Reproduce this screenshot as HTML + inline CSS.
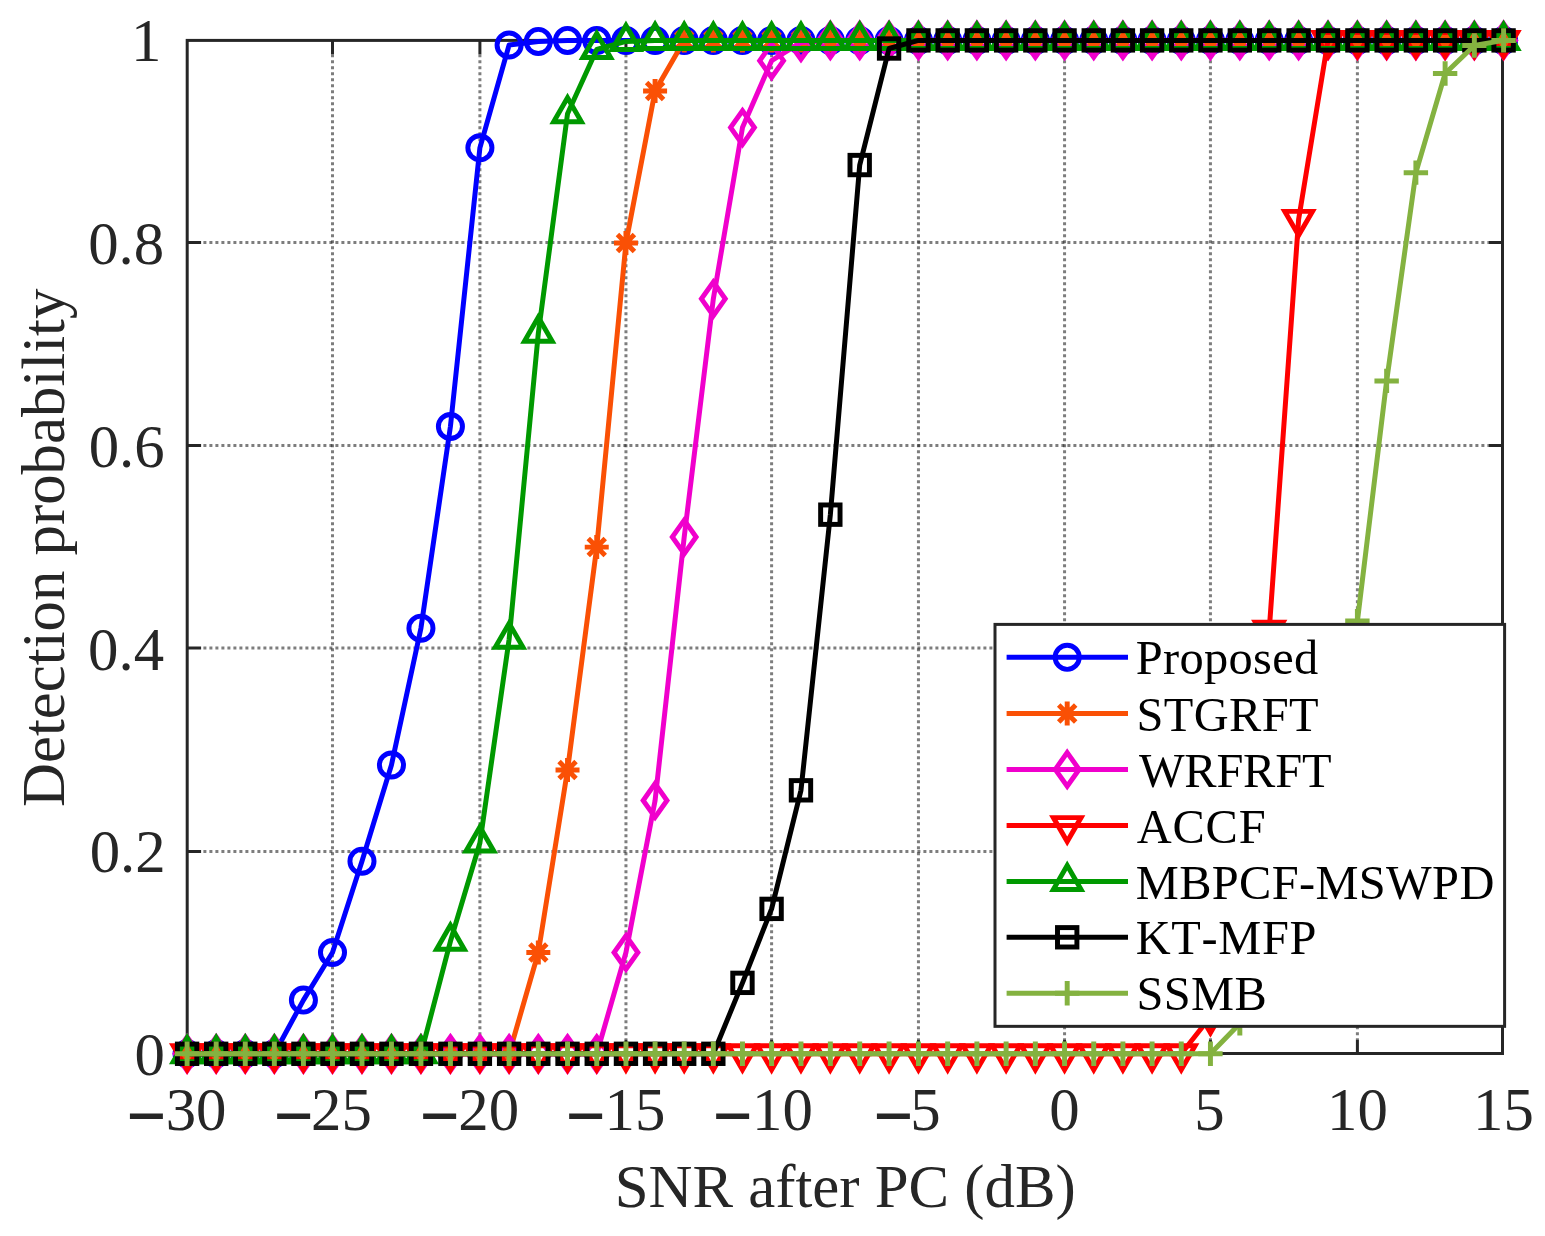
<!DOCTYPE html>
<html lang="en"><head><meta charset="utf-8"><title>Detection probability vs SNR</title>
<style>html,body{margin:0;padding:0;background:#fff}svg{display:block}text{font-family:"Liberation Serif",serif;font-kerning:none}</style></head><body>
<svg width="1545" height="1236" viewBox="0 0 1545 1236">
<rect width="1545" height="1236" fill="#fff"/>
<path d="M332.5 54.3V1039.6M479.9 54.3V1039.6M625.95 54.3V1039.6M771.6 54.3V1039.6M918.45 54.3V1039.6M1064.56 54.3V1039.6M1210.44 54.3V1039.6M1357.4 54.3V1039.6" fill="none" stroke="#262626" stroke-opacity="0.6" stroke-width="3" stroke-dasharray="3 3"/>
<path d="M201.1 851.4H1488.6M201.1 648H1488.6M201.1 445.4H1488.6M201.1 242.6H1488.6" fill="none" stroke="#262626" stroke-opacity="0.6" stroke-width="3" stroke-dasharray="3 3" stroke-dashoffset="3.7"/>
<path d="M332.5 1053.5V1039.6M332.5 40.4V54.3M479.9 1053.5V1039.6M479.9 40.4V54.3M625.95 1053.5V1039.6M625.95 40.4V54.3M771.6 1053.5V1039.6M771.6 40.4V54.3M918.45 1053.5V1039.6M918.45 40.4V54.3M1064.56 1053.5V1039.6M1064.56 40.4V54.3M1210.44 1053.5V1039.6M1210.44 40.4V54.3M1357.4 1053.5V1039.6M1357.4 40.4V54.3M187.2 851.4H201.1M1502.5 851.4H1488.6M187.2 648H201.1M1502.5 648H1488.6M187.2 445.4H201.1M1502.5 445.4H1488.6M187.2 242.6H201.1M1502.5 242.6H1488.6" fill="none" stroke="#262626" stroke-width="3"/>
<rect x="187.2" y="40.4" width="1315.3" height="1013.1" fill="none" stroke="#262626" stroke-width="3"/>
<g font-size="60.8" fill="#262626">
<text transform="translate(126.34 1152.0) scale(1.165 1.777)">−</text>
<text transform="translate(165.7 1129.8) scale(1 1.012)">30</text>
<text transform="translate(273.52 1152.0) scale(1.165 1.777)">−</text>
<text transform="translate(311.09 1129.8) scale(1 1.012)">25</text>
<text transform="translate(419.45 1152.0) scale(1.165 1.777)">−</text>
<text transform="translate(458.3 1129.8) scale(1 1.012)">20</text>
<text transform="translate(565.5 1152.0) scale(1.165 1.777)">−</text>
<text transform="translate(604.53 1129.8) scale(1 1.012)">15</text>
<text transform="translate(712.42 1152.0) scale(1.165 1.777)">−</text>
<text transform="translate(752.1 1129.8) scale(1 1.012)">10</text>
<text transform="translate(873.35 1152.0) scale(1.165 1.777)">−</text>
<text transform="translate(910.35 1129.8) scale(1 1.012)">5</text>
<text transform="translate(1064.56 1129.8) scale(1 1.012)" text-anchor="middle">0</text>
<text transform="translate(1209.44 1129.8) scale(1 1.012)" text-anchor="middle">5</text>
<text transform="translate(1357.4 1129.8) scale(1 1.012)" text-anchor="middle">10</text>
<text transform="translate(1503.4 1129.8) scale(1 1.012)" text-anchor="middle">15</text>
<text transform="translate(164.8 1075.05) scale(1 1.012)" text-anchor="end">0</text>
<text transform="translate(165.7 872) scale(1 1.012)" text-anchor="end">0.2</text>
<text transform="translate(164.05 670) scale(1 1.012)" text-anchor="end">0.4</text>
<text transform="translate(164.65 466.9) scale(1 1.012)" text-anchor="end">0.6</text>
<text transform="translate(164.2 264.2) scale(1 1.012)" text-anchor="end">0.8</text>
<text transform="translate(161.35 61.3) scale(1 1.012)" text-anchor="end">1</text>
<text x="845.3" y="1206.6" text-anchor="middle">SNR after PC (dB)</text>
<text transform="translate(64 547.8) rotate(-90)" text-anchor="middle">Detection probability</text>
</g>
<g>
<polyline points="187.1,1053.8 216.18,1053.8 245.26,1053.8 274.34,1053.8 303.42,1000.09 332.5,952.46 361.98,861.25 391.46,764.98 420.94,628.17 450.42,426.51 479.9,147.82 509.11,44.96 538.32,41.41 567.53,40.4 596.74,40.4 625.95,40.4 655.08,40.4 684.21,40.4 713.34,40.4 742.47,40.4 771.6,40.4 800.97,40.4 830.34,40.4 859.71,40.4 889.08,40.4 918.45,40.4 947.67,40.4 976.89,40.4 1006.12,40.4 1035.34,40.4 1064.56,40.4 1093.74,40.4 1122.91,40.4 1152.09,40.4 1181.26,40.4 1210.44,40.4 1239.83,40.4 1269.22,40.4 1298.62,40.4 1328.01,40.4 1357.4,40.4 1386.64,40.4 1415.88,40.4 1445.12,40.4 1474.36,40.4 1503.6,40.4" fill="none" stroke="#0000ff" stroke-width="5.0" stroke-linejoin="round"/>
<circle cx="187.1" cy="1053.8" r="12.05" fill="none" stroke="#0000ff" stroke-width="4.95"/>
<circle cx="216.18" cy="1053.8" r="12.05" fill="none" stroke="#0000ff" stroke-width="4.95"/>
<circle cx="245.26" cy="1053.8" r="12.05" fill="none" stroke="#0000ff" stroke-width="4.95"/>
<circle cx="274.34" cy="1053.8" r="12.05" fill="none" stroke="#0000ff" stroke-width="4.95"/>
<circle cx="303.42" cy="1000.09" r="12.05" fill="none" stroke="#0000ff" stroke-width="4.95"/>
<circle cx="332.5" cy="952.46" r="12.05" fill="none" stroke="#0000ff" stroke-width="4.95"/>
<circle cx="361.98" cy="861.25" r="12.05" fill="none" stroke="#0000ff" stroke-width="4.95"/>
<circle cx="391.46" cy="764.98" r="12.05" fill="none" stroke="#0000ff" stroke-width="4.95"/>
<circle cx="420.94" cy="628.17" r="12.05" fill="none" stroke="#0000ff" stroke-width="4.95"/>
<circle cx="450.42" cy="426.51" r="12.05" fill="none" stroke="#0000ff" stroke-width="4.95"/>
<circle cx="479.9" cy="147.82" r="12.05" fill="none" stroke="#0000ff" stroke-width="4.95"/>
<circle cx="509.11" cy="44.96" r="12.05" fill="none" stroke="#0000ff" stroke-width="4.95"/>
<circle cx="538.32" cy="41.41" r="12.05" fill="none" stroke="#0000ff" stroke-width="4.95"/>
<circle cx="567.53" cy="40.4" r="12.05" fill="none" stroke="#0000ff" stroke-width="4.95"/>
<circle cx="596.74" cy="40.4" r="12.05" fill="none" stroke="#0000ff" stroke-width="4.95"/>
<circle cx="625.95" cy="40.4" r="12.05" fill="none" stroke="#0000ff" stroke-width="4.95"/>
<circle cx="655.08" cy="40.4" r="12.05" fill="none" stroke="#0000ff" stroke-width="4.95"/>
<circle cx="684.21" cy="40.4" r="12.05" fill="none" stroke="#0000ff" stroke-width="4.95"/>
<circle cx="713.34" cy="40.4" r="12.05" fill="none" stroke="#0000ff" stroke-width="4.95"/>
<circle cx="742.47" cy="40.4" r="12.05" fill="none" stroke="#0000ff" stroke-width="4.95"/>
<circle cx="771.6" cy="40.4" r="12.05" fill="none" stroke="#0000ff" stroke-width="4.95"/>
<circle cx="800.97" cy="40.4" r="12.05" fill="none" stroke="#0000ff" stroke-width="4.95"/>
<circle cx="830.34" cy="40.4" r="12.05" fill="none" stroke="#0000ff" stroke-width="4.95"/>
<circle cx="859.71" cy="40.4" r="12.05" fill="none" stroke="#0000ff" stroke-width="4.95"/>
<circle cx="889.08" cy="40.4" r="12.05" fill="none" stroke="#0000ff" stroke-width="4.95"/>
<circle cx="918.45" cy="40.4" r="12.05" fill="none" stroke="#0000ff" stroke-width="4.95"/>
<circle cx="947.67" cy="40.4" r="12.05" fill="none" stroke="#0000ff" stroke-width="4.95"/>
<circle cx="976.89" cy="40.4" r="12.05" fill="none" stroke="#0000ff" stroke-width="4.95"/>
<circle cx="1006.12" cy="40.4" r="12.05" fill="none" stroke="#0000ff" stroke-width="4.95"/>
<circle cx="1035.34" cy="40.4" r="12.05" fill="none" stroke="#0000ff" stroke-width="4.95"/>
<circle cx="1064.56" cy="40.4" r="12.05" fill="none" stroke="#0000ff" stroke-width="4.95"/>
<circle cx="1093.74" cy="40.4" r="12.05" fill="none" stroke="#0000ff" stroke-width="4.95"/>
<circle cx="1122.91" cy="40.4" r="12.05" fill="none" stroke="#0000ff" stroke-width="4.95"/>
<circle cx="1152.09" cy="40.4" r="12.05" fill="none" stroke="#0000ff" stroke-width="4.95"/>
<circle cx="1181.26" cy="40.4" r="12.05" fill="none" stroke="#0000ff" stroke-width="4.95"/>
<circle cx="1210.44" cy="40.4" r="12.05" fill="none" stroke="#0000ff" stroke-width="4.95"/>
<circle cx="1239.83" cy="40.4" r="12.05" fill="none" stroke="#0000ff" stroke-width="4.95"/>
<circle cx="1269.22" cy="40.4" r="12.05" fill="none" stroke="#0000ff" stroke-width="4.95"/>
<circle cx="1298.62" cy="40.4" r="12.05" fill="none" stroke="#0000ff" stroke-width="4.95"/>
<circle cx="1328.01" cy="40.4" r="12.05" fill="none" stroke="#0000ff" stroke-width="4.95"/>
<circle cx="1357.4" cy="40.4" r="12.05" fill="none" stroke="#0000ff" stroke-width="4.95"/>
<circle cx="1386.64" cy="40.4" r="12.05" fill="none" stroke="#0000ff" stroke-width="4.95"/>
<circle cx="1415.88" cy="40.4" r="12.05" fill="none" stroke="#0000ff" stroke-width="4.95"/>
<circle cx="1445.12" cy="40.4" r="12.05" fill="none" stroke="#0000ff" stroke-width="4.95"/>
<circle cx="1474.36" cy="40.4" r="12.05" fill="none" stroke="#0000ff" stroke-width="4.95"/>
<circle cx="1503.6" cy="40.4" r="12.05" fill="none" stroke="#0000ff" stroke-width="4.95"/>
</g>
<g>
<polyline points="187.1,1053.8 216.18,1053.8 245.26,1053.8 274.34,1053.8 303.42,1053.8 332.5,1053.8 361.98,1053.8 391.46,1053.8 420.94,1053.8 450.42,1053.8 479.9,1053.8 509.11,1053.8 538.32,952.46 567.53,770.05 596.74,547.1 625.95,243.08 655.08,91.07 684.21,40.4 713.34,40.4 742.47,40.4 771.6,40.4 800.97,40.4 830.34,40.4 859.71,40.4 889.08,40.4 918.45,40.4 947.67,40.4 976.89,40.4 1006.12,40.4 1035.34,40.4 1064.56,40.4 1093.74,40.4 1122.91,40.4 1152.09,40.4 1181.26,40.4 1210.44,40.4 1239.83,40.4 1269.22,40.4 1298.62,40.4 1328.01,40.4 1357.4,40.4 1386.64,40.4 1415.88,40.4 1445.12,40.4 1474.36,40.4 1503.6,40.4" fill="none" stroke="#fa5005" stroke-width="5.0" stroke-linejoin="round"/>
<path d="M175.1 1053.8H199.1M187.1 1041.8V1065.8M178.61 1045.31L195.59 1062.29M178.61 1062.29L195.59 1045.31" fill="none" stroke="#fa5005" stroke-width="4.95"/>
<path d="M204.18 1053.8H228.18M216.18 1041.8V1065.8M207.69 1045.31L224.67 1062.29M207.69 1062.29L224.67 1045.31" fill="none" stroke="#fa5005" stroke-width="4.95"/>
<path d="M233.26 1053.8H257.26M245.26 1041.8V1065.8M236.77 1045.31L253.75 1062.29M236.77 1062.29L253.75 1045.31" fill="none" stroke="#fa5005" stroke-width="4.95"/>
<path d="M262.34 1053.8H286.34M274.34 1041.8V1065.8M265.85 1045.31L282.83 1062.29M265.85 1062.29L282.83 1045.31" fill="none" stroke="#fa5005" stroke-width="4.95"/>
<path d="M291.42 1053.8H315.42M303.42 1041.8V1065.8M294.93 1045.31L311.91 1062.29M294.93 1062.29L311.91 1045.31" fill="none" stroke="#fa5005" stroke-width="4.95"/>
<path d="M320.5 1053.8H344.5M332.5 1041.8V1065.8M324.01 1045.31L340.99 1062.29M324.01 1062.29L340.99 1045.31" fill="none" stroke="#fa5005" stroke-width="4.95"/>
<path d="M349.98 1053.8H373.98M361.98 1041.8V1065.8M353.49 1045.31L370.47 1062.29M353.49 1062.29L370.47 1045.31" fill="none" stroke="#fa5005" stroke-width="4.95"/>
<path d="M379.46 1053.8H403.46M391.46 1041.8V1065.8M382.97 1045.31L399.95 1062.29M382.97 1062.29L399.95 1045.31" fill="none" stroke="#fa5005" stroke-width="4.95"/>
<path d="M408.94 1053.8H432.94M420.94 1041.8V1065.8M412.45 1045.31L429.43 1062.29M412.45 1062.29L429.43 1045.31" fill="none" stroke="#fa5005" stroke-width="4.95"/>
<path d="M438.42 1053.8H462.42M450.42 1041.8V1065.8M441.93 1045.31L458.91 1062.29M441.93 1062.29L458.91 1045.31" fill="none" stroke="#fa5005" stroke-width="4.95"/>
<path d="M467.9 1053.8H491.9M479.9 1041.8V1065.8M471.41 1045.31L488.39 1062.29M471.41 1062.29L488.39 1045.31" fill="none" stroke="#fa5005" stroke-width="4.95"/>
<path d="M497.11 1053.8H521.11M509.11 1041.8V1065.8M500.62 1045.31L517.6 1062.29M500.62 1062.29L517.6 1045.31" fill="none" stroke="#fa5005" stroke-width="4.95"/>
<path d="M526.32 952.46H550.32M538.32 940.46V964.46M529.83 943.97L546.81 960.95M529.83 960.95L546.81 943.97" fill="none" stroke="#fa5005" stroke-width="4.95"/>
<path d="M555.53 770.05H579.53M567.53 758.05V782.05M559.04 761.56L576.02 778.53M559.04 778.53L576.02 761.56" fill="none" stroke="#fa5005" stroke-width="4.95"/>
<path d="M584.74 547.1H608.74M596.74 535.1V559.1M588.25 538.61L605.23 555.59M588.25 555.59L605.23 538.61" fill="none" stroke="#fa5005" stroke-width="4.95"/>
<path d="M613.95 243.08H637.95M625.95 231.08V255.08M617.46 234.59L634.44 251.57M617.46 251.57L634.44 234.59" fill="none" stroke="#fa5005" stroke-width="4.95"/>
<path d="M643.08 91.07H667.08M655.08 79.07V103.07M646.59 82.58L663.57 99.56M646.59 99.56L663.57 82.58" fill="none" stroke="#fa5005" stroke-width="4.95"/>
<path d="M672.21 40.4H696.21M684.21 28.4V52.4M675.72 31.91L692.7 48.89M675.72 48.89L692.7 31.91" fill="none" stroke="#fa5005" stroke-width="4.95"/>
<path d="M701.34 40.4H725.34M713.34 28.4V52.4M704.85 31.91L721.83 48.89M704.85 48.89L721.83 31.91" fill="none" stroke="#fa5005" stroke-width="4.95"/>
<path d="M730.47 40.4H754.47M742.47 28.4V52.4M733.98 31.91L750.96 48.89M733.98 48.89L750.96 31.91" fill="none" stroke="#fa5005" stroke-width="4.95"/>
<path d="M759.6 40.4H783.6M771.6 28.4V52.4M763.11 31.91L780.09 48.89M763.11 48.89L780.09 31.91" fill="none" stroke="#fa5005" stroke-width="4.95"/>
<path d="M788.97 40.4H812.97M800.97 28.4V52.4M792.48 31.91L809.46 48.89M792.48 48.89L809.46 31.91" fill="none" stroke="#fa5005" stroke-width="4.95"/>
<path d="M818.34 40.4H842.34M830.34 28.4V52.4M821.85 31.91L838.83 48.89M821.85 48.89L838.83 31.91" fill="none" stroke="#fa5005" stroke-width="4.95"/>
<path d="M847.71 40.4H871.71M859.71 28.4V52.4M851.22 31.91L868.2 48.89M851.22 48.89L868.2 31.91" fill="none" stroke="#fa5005" stroke-width="4.95"/>
<path d="M877.08 40.4H901.08M889.08 28.4V52.4M880.59 31.91L897.57 48.89M880.59 48.89L897.57 31.91" fill="none" stroke="#fa5005" stroke-width="4.95"/>
<path d="M906.45 40.4H930.45M918.45 28.4V52.4M909.96 31.91L926.94 48.89M909.96 48.89L926.94 31.91" fill="none" stroke="#fa5005" stroke-width="4.95"/>
<path d="M935.67 40.4H959.67M947.67 28.4V52.4M939.19 31.91L956.16 48.89M939.19 48.89L956.16 31.91" fill="none" stroke="#fa5005" stroke-width="4.95"/>
<path d="M964.89 40.4H988.89M976.89 28.4V52.4M968.41 31.91L985.38 48.89M968.41 48.89L985.38 31.91" fill="none" stroke="#fa5005" stroke-width="4.95"/>
<path d="M994.12 40.4H1018.12M1006.12 28.4V52.4M997.63 31.91L1014.6 48.89M997.63 48.89L1014.6 31.91" fill="none" stroke="#fa5005" stroke-width="4.95"/>
<path d="M1023.34 40.4H1047.34M1035.34 28.4V52.4M1026.85 31.91L1043.82 48.89M1026.85 48.89L1043.82 31.91" fill="none" stroke="#fa5005" stroke-width="4.95"/>
<path d="M1052.56 40.4H1076.56M1064.56 28.4V52.4M1056.07 31.91L1073.05 48.89M1056.07 48.89L1073.05 31.91" fill="none" stroke="#fa5005" stroke-width="4.95"/>
<path d="M1081.74 40.4H1105.74M1093.74 28.4V52.4M1085.25 31.91L1102.22 48.89M1085.25 48.89L1102.22 31.91" fill="none" stroke="#fa5005" stroke-width="4.95"/>
<path d="M1110.91 40.4H1134.91M1122.91 28.4V52.4M1114.43 31.91L1131.4 48.89M1114.43 48.89L1131.4 31.91" fill="none" stroke="#fa5005" stroke-width="4.95"/>
<path d="M1140.09 40.4H1164.09M1152.09 28.4V52.4M1143.6 31.91L1160.57 48.89M1143.6 48.89L1160.57 31.91" fill="none" stroke="#fa5005" stroke-width="4.95"/>
<path d="M1169.26 40.4H1193.26M1181.26 28.4V52.4M1172.78 31.91L1189.75 48.89M1172.78 48.89L1189.75 31.91" fill="none" stroke="#fa5005" stroke-width="4.95"/>
<path d="M1198.44 40.4H1222.44M1210.44 28.4V52.4M1201.95 31.91L1218.93 48.89M1201.95 48.89L1218.93 31.91" fill="none" stroke="#fa5005" stroke-width="4.95"/>
<path d="M1227.83 40.4H1251.83M1239.83 28.4V52.4M1231.35 31.91L1248.32 48.89M1231.35 48.89L1248.32 31.91" fill="none" stroke="#fa5005" stroke-width="4.95"/>
<path d="M1257.22 40.4H1281.22M1269.22 28.4V52.4M1260.74 31.91L1277.71 48.89M1260.74 48.89L1277.71 31.91" fill="none" stroke="#fa5005" stroke-width="4.95"/>
<path d="M1286.62 40.4H1310.62M1298.62 28.4V52.4M1290.13 31.91L1307.1 48.89M1290.13 48.89L1307.1 31.91" fill="none" stroke="#fa5005" stroke-width="4.95"/>
<path d="M1316.01 40.4H1340.01M1328.01 28.4V52.4M1319.52 31.91L1336.49 48.89M1319.52 48.89L1336.49 31.91" fill="none" stroke="#fa5005" stroke-width="4.95"/>
<path d="M1345.4 40.4H1369.4M1357.4 28.4V52.4M1348.91 31.91L1365.89 48.89M1348.91 48.89L1365.89 31.91" fill="none" stroke="#fa5005" stroke-width="4.95"/>
<path d="M1374.64 40.4H1398.64M1386.64 28.4V52.4M1378.15 31.91L1395.13 48.89M1378.15 48.89L1395.13 31.91" fill="none" stroke="#fa5005" stroke-width="4.95"/>
<path d="M1403.88 40.4H1427.88M1415.88 28.4V52.4M1407.39 31.91L1424.37 48.89M1407.39 48.89L1424.37 31.91" fill="none" stroke="#fa5005" stroke-width="4.95"/>
<path d="M1433.12 40.4H1457.12M1445.12 28.4V52.4M1436.63 31.91L1453.61 48.89M1436.63 48.89L1453.61 31.91" fill="none" stroke="#fa5005" stroke-width="4.95"/>
<path d="M1462.36 40.4H1486.36M1474.36 28.4V52.4M1465.87 31.91L1482.85 48.89M1465.87 48.89L1482.85 31.91" fill="none" stroke="#fa5005" stroke-width="4.95"/>
<path d="M1491.6 40.4H1515.6M1503.6 28.4V52.4M1495.11 31.91L1512.09 48.89M1495.11 48.89L1512.09 31.91" fill="none" stroke="#fa5005" stroke-width="4.95"/>
</g>
<g>
<polyline points="187.1,1053.8 216.18,1053.8 245.26,1053.8 274.34,1053.8 303.42,1053.8 332.5,1053.8 361.98,1053.8 391.46,1053.8 420.94,1053.8 450.42,1053.8 479.9,1053.8 509.11,1053.8 538.32,1053.8 567.53,1053.8 596.74,1053.8 625.95,952.46 655.08,800.45 684.21,536.97 713.34,298.82 742.47,127.55 771.6,60.67 800.97,42.43 830.34,40.4 859.71,40.4 889.08,40.4 918.45,40.4 947.67,40.4 976.89,40.4 1006.12,40.4 1035.34,40.4 1064.56,40.4 1093.74,40.4 1122.91,40.4 1152.09,40.4 1181.26,40.4 1210.44,40.4 1239.83,40.4 1269.22,40.4 1298.62,40.4 1328.01,40.4 1357.4,40.4 1386.64,40.4 1415.88,40.4 1445.12,40.4 1474.36,40.4 1503.6,40.4" fill="none" stroke="#f000cc" stroke-width="5.0" stroke-linejoin="round"/>
<path d="M187.1 1037L199 1053.8L187.1 1070.6L175.2 1053.8Z" fill="none" stroke="#f000cc" stroke-width="4.95"/>
<path d="M216.18 1037L228.08 1053.8L216.18 1070.6L204.28 1053.8Z" fill="none" stroke="#f000cc" stroke-width="4.95"/>
<path d="M245.26 1037L257.16 1053.8L245.26 1070.6L233.36 1053.8Z" fill="none" stroke="#f000cc" stroke-width="4.95"/>
<path d="M274.34 1037L286.24 1053.8L274.34 1070.6L262.44 1053.8Z" fill="none" stroke="#f000cc" stroke-width="4.95"/>
<path d="M303.42 1037L315.32 1053.8L303.42 1070.6L291.52 1053.8Z" fill="none" stroke="#f000cc" stroke-width="4.95"/>
<path d="M332.5 1037L344.4 1053.8L332.5 1070.6L320.6 1053.8Z" fill="none" stroke="#f000cc" stroke-width="4.95"/>
<path d="M361.98 1037L373.88 1053.8L361.98 1070.6L350.08 1053.8Z" fill="none" stroke="#f000cc" stroke-width="4.95"/>
<path d="M391.46 1037L403.36 1053.8L391.46 1070.6L379.56 1053.8Z" fill="none" stroke="#f000cc" stroke-width="4.95"/>
<path d="M420.94 1037L432.84 1053.8L420.94 1070.6L409.04 1053.8Z" fill="none" stroke="#f000cc" stroke-width="4.95"/>
<path d="M450.42 1037L462.32 1053.8L450.42 1070.6L438.52 1053.8Z" fill="none" stroke="#f000cc" stroke-width="4.95"/>
<path d="M479.9 1037L491.8 1053.8L479.9 1070.6L468 1053.8Z" fill="none" stroke="#f000cc" stroke-width="4.95"/>
<path d="M509.11 1037L521.01 1053.8L509.11 1070.6L497.21 1053.8Z" fill="none" stroke="#f000cc" stroke-width="4.95"/>
<path d="M538.32 1037L550.22 1053.8L538.32 1070.6L526.42 1053.8Z" fill="none" stroke="#f000cc" stroke-width="4.95"/>
<path d="M567.53 1037L579.43 1053.8L567.53 1070.6L555.63 1053.8Z" fill="none" stroke="#f000cc" stroke-width="4.95"/>
<path d="M596.74 1037L608.64 1053.8L596.74 1070.6L584.84 1053.8Z" fill="none" stroke="#f000cc" stroke-width="4.95"/>
<path d="M625.95 935.66L637.85 952.46L625.95 969.26L614.05 952.46Z" fill="none" stroke="#f000cc" stroke-width="4.95"/>
<path d="M655.08 783.65L666.98 800.45L655.08 817.25L643.18 800.45Z" fill="none" stroke="#f000cc" stroke-width="4.95"/>
<path d="M684.21 520.17L696.11 536.97L684.21 553.77L672.31 536.97Z" fill="none" stroke="#f000cc" stroke-width="4.95"/>
<path d="M713.34 282.02L725.24 298.82L713.34 315.62L701.44 298.82Z" fill="none" stroke="#f000cc" stroke-width="4.95"/>
<path d="M742.47 110.75L754.37 127.55L742.47 144.35L730.57 127.55Z" fill="none" stroke="#f000cc" stroke-width="4.95"/>
<path d="M771.6 43.87L783.5 60.67L771.6 77.47L759.7 60.67Z" fill="none" stroke="#f000cc" stroke-width="4.95"/>
<path d="M800.97 25.63L812.87 42.43L800.97 59.23L789.07 42.43Z" fill="none" stroke="#f000cc" stroke-width="4.95"/>
<path d="M830.34 23.6L842.24 40.4L830.34 57.2L818.44 40.4Z" fill="none" stroke="#f000cc" stroke-width="4.95"/>
<path d="M859.71 23.6L871.61 40.4L859.71 57.2L847.81 40.4Z" fill="none" stroke="#f000cc" stroke-width="4.95"/>
<path d="M889.08 23.6L900.98 40.4L889.08 57.2L877.18 40.4Z" fill="none" stroke="#f000cc" stroke-width="4.95"/>
<path d="M918.45 23.6L930.35 40.4L918.45 57.2L906.55 40.4Z" fill="none" stroke="#f000cc" stroke-width="4.95"/>
<path d="M947.67 23.6L959.57 40.4L947.67 57.2L935.77 40.4Z" fill="none" stroke="#f000cc" stroke-width="4.95"/>
<path d="M976.89 23.6L988.79 40.4L976.89 57.2L964.99 40.4Z" fill="none" stroke="#f000cc" stroke-width="4.95"/>
<path d="M1006.12 23.6L1018.02 40.4L1006.12 57.2L994.22 40.4Z" fill="none" stroke="#f000cc" stroke-width="4.95"/>
<path d="M1035.34 23.6L1047.24 40.4L1035.34 57.2L1023.44 40.4Z" fill="none" stroke="#f000cc" stroke-width="4.95"/>
<path d="M1064.56 23.6L1076.46 40.4L1064.56 57.2L1052.66 40.4Z" fill="none" stroke="#f000cc" stroke-width="4.95"/>
<path d="M1093.74 23.6L1105.64 40.4L1093.74 57.2L1081.84 40.4Z" fill="none" stroke="#f000cc" stroke-width="4.95"/>
<path d="M1122.91 23.6L1134.81 40.4L1122.91 57.2L1111.01 40.4Z" fill="none" stroke="#f000cc" stroke-width="4.95"/>
<path d="M1152.09 23.6L1163.99 40.4L1152.09 57.2L1140.19 40.4Z" fill="none" stroke="#f000cc" stroke-width="4.95"/>
<path d="M1181.26 23.6L1193.16 40.4L1181.26 57.2L1169.36 40.4Z" fill="none" stroke="#f000cc" stroke-width="4.95"/>
<path d="M1210.44 23.6L1222.34 40.4L1210.44 57.2L1198.54 40.4Z" fill="none" stroke="#f000cc" stroke-width="4.95"/>
<path d="M1239.83 23.6L1251.73 40.4L1239.83 57.2L1227.93 40.4Z" fill="none" stroke="#f000cc" stroke-width="4.95"/>
<path d="M1269.22 23.6L1281.12 40.4L1269.22 57.2L1257.32 40.4Z" fill="none" stroke="#f000cc" stroke-width="4.95"/>
<path d="M1298.62 23.6L1310.52 40.4L1298.62 57.2L1286.72 40.4Z" fill="none" stroke="#f000cc" stroke-width="4.95"/>
<path d="M1328.01 23.6L1339.91 40.4L1328.01 57.2L1316.11 40.4Z" fill="none" stroke="#f000cc" stroke-width="4.95"/>
<path d="M1357.4 23.6L1369.3 40.4L1357.4 57.2L1345.5 40.4Z" fill="none" stroke="#f000cc" stroke-width="4.95"/>
<path d="M1386.64 23.6L1398.54 40.4L1386.64 57.2L1374.74 40.4Z" fill="none" stroke="#f000cc" stroke-width="4.95"/>
<path d="M1415.88 23.6L1427.78 40.4L1415.88 57.2L1403.98 40.4Z" fill="none" stroke="#f000cc" stroke-width="4.95"/>
<path d="M1445.12 23.6L1457.02 40.4L1445.12 57.2L1433.22 40.4Z" fill="none" stroke="#f000cc" stroke-width="4.95"/>
<path d="M1474.36 23.6L1486.26 40.4L1474.36 57.2L1462.46 40.4Z" fill="none" stroke="#f000cc" stroke-width="4.95"/>
<path d="M1503.6 23.6L1515.5 40.4L1503.6 57.2L1491.7 40.4Z" fill="none" stroke="#f000cc" stroke-width="4.95"/>
</g>
<g>
<polyline points="187.1,1053.8 216.18,1053.8 245.26,1053.8 274.34,1053.8 303.42,1053.8 332.5,1053.8 361.98,1053.8 391.46,1053.8 420.94,1053.8 450.42,1053.8 479.9,1053.8 509.11,1053.8 538.32,1053.8 567.53,1053.8 596.74,1053.8 625.95,1053.8 655.08,1053.8 684.21,1053.8 713.34,1053.8 742.47,1053.8 771.6,1053.8 800.97,1053.8 830.34,1053.8 859.71,1053.8 889.08,1053.8 918.45,1053.8 947.67,1053.8 976.89,1053.8 1006.12,1053.8 1035.34,1053.8 1064.56,1053.8 1093.74,1053.8 1122.91,1053.8 1152.09,1053.8 1181.26,1053.8 1210.44,1016.81 1239.83,891.66 1269.22,630.2 1298.62,219.37 1328.01,40.4 1357.4,40.4 1386.64,40.4 1415.88,40.4 1445.12,40.4 1474.36,40.4 1503.6,40.4" fill="none" stroke="#ff0000" stroke-width="5.0" stroke-linejoin="round"/>
<path d="M173.25 1045.8L200.95 1045.8L187.1 1069.79Z" fill="none" stroke="#ff0000" stroke-width="4.95"/>
<path d="M202.33 1045.8L230.03 1045.8L216.18 1069.79Z" fill="none" stroke="#ff0000" stroke-width="4.95"/>
<path d="M231.41 1045.8L259.11 1045.8L245.26 1069.79Z" fill="none" stroke="#ff0000" stroke-width="4.95"/>
<path d="M260.49 1045.8L288.19 1045.8L274.34 1069.79Z" fill="none" stroke="#ff0000" stroke-width="4.95"/>
<path d="M289.57 1045.8L317.27 1045.8L303.42 1069.79Z" fill="none" stroke="#ff0000" stroke-width="4.95"/>
<path d="M318.65 1045.8L346.35 1045.8L332.5 1069.79Z" fill="none" stroke="#ff0000" stroke-width="4.95"/>
<path d="M348.13 1045.8L375.83 1045.8L361.98 1069.79Z" fill="none" stroke="#ff0000" stroke-width="4.95"/>
<path d="M377.61 1045.8L405.31 1045.8L391.46 1069.79Z" fill="none" stroke="#ff0000" stroke-width="4.95"/>
<path d="M407.09 1045.8L434.79 1045.8L420.94 1069.79Z" fill="none" stroke="#ff0000" stroke-width="4.95"/>
<path d="M436.57 1045.8L464.27 1045.8L450.42 1069.79Z" fill="none" stroke="#ff0000" stroke-width="4.95"/>
<path d="M466.05 1045.8L493.75 1045.8L479.9 1069.79Z" fill="none" stroke="#ff0000" stroke-width="4.95"/>
<path d="M495.26 1045.8L522.96 1045.8L509.11 1069.79Z" fill="none" stroke="#ff0000" stroke-width="4.95"/>
<path d="M524.47 1045.8L552.17 1045.8L538.32 1069.79Z" fill="none" stroke="#ff0000" stroke-width="4.95"/>
<path d="M553.68 1045.8L581.38 1045.8L567.53 1069.79Z" fill="none" stroke="#ff0000" stroke-width="4.95"/>
<path d="M582.89 1045.8L610.59 1045.8L596.74 1069.79Z" fill="none" stroke="#ff0000" stroke-width="4.95"/>
<path d="M612.1 1045.8L639.8 1045.8L625.95 1069.79Z" fill="none" stroke="#ff0000" stroke-width="4.95"/>
<path d="M641.23 1045.8L668.93 1045.8L655.08 1069.79Z" fill="none" stroke="#ff0000" stroke-width="4.95"/>
<path d="M670.36 1045.8L698.06 1045.8L684.21 1069.79Z" fill="none" stroke="#ff0000" stroke-width="4.95"/>
<path d="M699.49 1045.8L727.19 1045.8L713.34 1069.79Z" fill="none" stroke="#ff0000" stroke-width="4.95"/>
<path d="M728.62 1045.8L756.32 1045.8L742.47 1069.79Z" fill="none" stroke="#ff0000" stroke-width="4.95"/>
<path d="M757.75 1045.8L785.45 1045.8L771.6 1069.79Z" fill="none" stroke="#ff0000" stroke-width="4.95"/>
<path d="M787.12 1045.8L814.82 1045.8L800.97 1069.79Z" fill="none" stroke="#ff0000" stroke-width="4.95"/>
<path d="M816.49 1045.8L844.19 1045.8L830.34 1069.79Z" fill="none" stroke="#ff0000" stroke-width="4.95"/>
<path d="M845.86 1045.8L873.56 1045.8L859.71 1069.79Z" fill="none" stroke="#ff0000" stroke-width="4.95"/>
<path d="M875.23 1045.8L902.93 1045.8L889.08 1069.79Z" fill="none" stroke="#ff0000" stroke-width="4.95"/>
<path d="M904.6 1045.8L932.3 1045.8L918.45 1069.79Z" fill="none" stroke="#ff0000" stroke-width="4.95"/>
<path d="M933.82 1045.8L961.52 1045.8L947.67 1069.79Z" fill="none" stroke="#ff0000" stroke-width="4.95"/>
<path d="M963.04 1045.8L990.74 1045.8L976.89 1069.79Z" fill="none" stroke="#ff0000" stroke-width="4.95"/>
<path d="M992.27 1045.8L1019.97 1045.8L1006.12 1069.79Z" fill="none" stroke="#ff0000" stroke-width="4.95"/>
<path d="M1021.49 1045.8L1049.19 1045.8L1035.34 1069.79Z" fill="none" stroke="#ff0000" stroke-width="4.95"/>
<path d="M1050.71 1045.8L1078.41 1045.8L1064.56 1069.79Z" fill="none" stroke="#ff0000" stroke-width="4.95"/>
<path d="M1079.89 1045.8L1107.59 1045.8L1093.74 1069.79Z" fill="none" stroke="#ff0000" stroke-width="4.95"/>
<path d="M1109.06 1045.8L1136.76 1045.8L1122.91 1069.79Z" fill="none" stroke="#ff0000" stroke-width="4.95"/>
<path d="M1138.24 1045.8L1165.94 1045.8L1152.09 1069.79Z" fill="none" stroke="#ff0000" stroke-width="4.95"/>
<path d="M1167.41 1045.8L1195.11 1045.8L1181.26 1069.79Z" fill="none" stroke="#ff0000" stroke-width="4.95"/>
<path d="M1196.59 1008.81L1224.29 1008.81L1210.44 1032.8Z" fill="none" stroke="#ff0000" stroke-width="4.95"/>
<path d="M1225.98 883.66L1253.68 883.66L1239.83 907.65Z" fill="none" stroke="#ff0000" stroke-width="4.95"/>
<path d="M1255.37 622.2L1283.07 622.2L1269.22 646.19Z" fill="none" stroke="#ff0000" stroke-width="4.95"/>
<path d="M1284.77 211.37L1312.47 211.37L1298.62 235.36Z" fill="none" stroke="#ff0000" stroke-width="4.95"/>
<path d="M1314.16 32.4L1341.86 32.4L1328.01 56.39Z" fill="none" stroke="#ff0000" stroke-width="4.95"/>
<path d="M1343.55 32.4L1371.25 32.4L1357.4 56.39Z" fill="none" stroke="#ff0000" stroke-width="4.95"/>
<path d="M1372.79 32.4L1400.49 32.4L1386.64 56.39Z" fill="none" stroke="#ff0000" stroke-width="4.95"/>
<path d="M1402.03 32.4L1429.73 32.4L1415.88 56.39Z" fill="none" stroke="#ff0000" stroke-width="4.95"/>
<path d="M1431.27 32.4L1458.97 32.4L1445.12 56.39Z" fill="none" stroke="#ff0000" stroke-width="4.95"/>
<path d="M1460.51 32.4L1488.21 32.4L1474.36 56.39Z" fill="none" stroke="#ff0000" stroke-width="4.95"/>
<path d="M1489.75 32.4L1517.45 32.4L1503.6 56.39Z" fill="none" stroke="#ff0000" stroke-width="4.95"/>
</g>
<g>
<polyline points="187.1,1053.8 216.18,1053.8 245.26,1053.8 274.34,1053.8 303.42,1053.8 332.5,1053.8 361.98,1053.8 391.46,1053.8 420.94,1053.8 450.42,941.31 479.9,843.01 509.11,639.32 538.32,333.27 567.53,113.77 596.74,49.52 625.95,41.41 655.08,40.4 684.21,40.4 713.34,40.4 742.47,40.4 771.6,40.4 800.97,40.4 830.34,40.4 859.71,40.4 889.08,40.4 918.45,40.4 947.67,40.4 976.89,40.4 1006.12,40.4 1035.34,40.4 1064.56,40.4 1093.74,40.4 1122.91,40.4 1152.09,40.4 1181.26,40.4 1210.44,40.4 1239.83,40.4 1269.22,40.4 1298.62,40.4 1328.01,40.4 1357.4,40.4 1386.64,40.4 1415.88,40.4 1445.12,40.4 1474.36,40.4 1503.6,40.4" fill="none" stroke="#009900" stroke-width="5.0" stroke-linejoin="round"/>
<path d="M173.25 1061.8L200.95 1061.8L187.1 1037.81Z" fill="none" stroke="#009900" stroke-width="4.95"/>
<path d="M202.33 1061.8L230.03 1061.8L216.18 1037.81Z" fill="none" stroke="#009900" stroke-width="4.95"/>
<path d="M231.41 1061.8L259.11 1061.8L245.26 1037.81Z" fill="none" stroke="#009900" stroke-width="4.95"/>
<path d="M260.49 1061.8L288.19 1061.8L274.34 1037.81Z" fill="none" stroke="#009900" stroke-width="4.95"/>
<path d="M289.57 1061.8L317.27 1061.8L303.42 1037.81Z" fill="none" stroke="#009900" stroke-width="4.95"/>
<path d="M318.65 1061.8L346.35 1061.8L332.5 1037.81Z" fill="none" stroke="#009900" stroke-width="4.95"/>
<path d="M348.13 1061.8L375.83 1061.8L361.98 1037.81Z" fill="none" stroke="#009900" stroke-width="4.95"/>
<path d="M377.61 1061.8L405.31 1061.8L391.46 1037.81Z" fill="none" stroke="#009900" stroke-width="4.95"/>
<path d="M407.09 1061.8L434.79 1061.8L420.94 1037.81Z" fill="none" stroke="#009900" stroke-width="4.95"/>
<path d="M436.57 949.31L464.27 949.31L450.42 925.32Z" fill="none" stroke="#009900" stroke-width="4.95"/>
<path d="M466.05 851.01L493.75 851.01L479.9 827.02Z" fill="none" stroke="#009900" stroke-width="4.95"/>
<path d="M495.26 647.32L522.96 647.32L509.11 623.33Z" fill="none" stroke="#009900" stroke-width="4.95"/>
<path d="M524.47 341.27L552.17 341.27L538.32 317.28Z" fill="none" stroke="#009900" stroke-width="4.95"/>
<path d="M553.68 121.77L581.38 121.77L567.53 97.78Z" fill="none" stroke="#009900" stroke-width="4.95"/>
<path d="M582.89 57.52L610.59 57.52L596.74 33.53Z" fill="none" stroke="#009900" stroke-width="4.95"/>
<path d="M612.1 49.41L639.8 49.41L625.95 25.42Z" fill="none" stroke="#009900" stroke-width="4.95"/>
<path d="M641.23 48.4L668.93 48.4L655.08 24.41Z" fill="none" stroke="#009900" stroke-width="4.95"/>
<path d="M670.36 48.4L698.06 48.4L684.21 24.41Z" fill="none" stroke="#009900" stroke-width="4.95"/>
<path d="M699.49 48.4L727.19 48.4L713.34 24.41Z" fill="none" stroke="#009900" stroke-width="4.95"/>
<path d="M728.62 48.4L756.32 48.4L742.47 24.41Z" fill="none" stroke="#009900" stroke-width="4.95"/>
<path d="M757.75 48.4L785.45 48.4L771.6 24.41Z" fill="none" stroke="#009900" stroke-width="4.95"/>
<path d="M787.12 48.4L814.82 48.4L800.97 24.41Z" fill="none" stroke="#009900" stroke-width="4.95"/>
<path d="M816.49 48.4L844.19 48.4L830.34 24.41Z" fill="none" stroke="#009900" stroke-width="4.95"/>
<path d="M845.86 48.4L873.56 48.4L859.71 24.41Z" fill="none" stroke="#009900" stroke-width="4.95"/>
<path d="M875.23 48.4L902.93 48.4L889.08 24.41Z" fill="none" stroke="#009900" stroke-width="4.95"/>
<path d="M904.6 48.4L932.3 48.4L918.45 24.41Z" fill="none" stroke="#009900" stroke-width="4.95"/>
<path d="M933.82 48.4L961.52 48.4L947.67 24.41Z" fill="none" stroke="#009900" stroke-width="4.95"/>
<path d="M963.04 48.4L990.74 48.4L976.89 24.41Z" fill="none" stroke="#009900" stroke-width="4.95"/>
<path d="M992.27 48.4L1019.97 48.4L1006.12 24.41Z" fill="none" stroke="#009900" stroke-width="4.95"/>
<path d="M1021.49 48.4L1049.19 48.4L1035.34 24.41Z" fill="none" stroke="#009900" stroke-width="4.95"/>
<path d="M1050.71 48.4L1078.41 48.4L1064.56 24.41Z" fill="none" stroke="#009900" stroke-width="4.95"/>
<path d="M1079.89 48.4L1107.59 48.4L1093.74 24.41Z" fill="none" stroke="#009900" stroke-width="4.95"/>
<path d="M1109.06 48.4L1136.76 48.4L1122.91 24.41Z" fill="none" stroke="#009900" stroke-width="4.95"/>
<path d="M1138.24 48.4L1165.94 48.4L1152.09 24.41Z" fill="none" stroke="#009900" stroke-width="4.95"/>
<path d="M1167.41 48.4L1195.11 48.4L1181.26 24.41Z" fill="none" stroke="#009900" stroke-width="4.95"/>
<path d="M1196.59 48.4L1224.29 48.4L1210.44 24.41Z" fill="none" stroke="#009900" stroke-width="4.95"/>
<path d="M1225.98 48.4L1253.68 48.4L1239.83 24.41Z" fill="none" stroke="#009900" stroke-width="4.95"/>
<path d="M1255.37 48.4L1283.07 48.4L1269.22 24.41Z" fill="none" stroke="#009900" stroke-width="4.95"/>
<path d="M1284.77 48.4L1312.47 48.4L1298.62 24.41Z" fill="none" stroke="#009900" stroke-width="4.95"/>
<path d="M1314.16 48.4L1341.86 48.4L1328.01 24.41Z" fill="none" stroke="#009900" stroke-width="4.95"/>
<path d="M1343.55 48.4L1371.25 48.4L1357.4 24.41Z" fill="none" stroke="#009900" stroke-width="4.95"/>
<path d="M1372.79 48.4L1400.49 48.4L1386.64 24.41Z" fill="none" stroke="#009900" stroke-width="4.95"/>
<path d="M1402.03 48.4L1429.73 48.4L1415.88 24.41Z" fill="none" stroke="#009900" stroke-width="4.95"/>
<path d="M1431.27 48.4L1458.97 48.4L1445.12 24.41Z" fill="none" stroke="#009900" stroke-width="4.95"/>
<path d="M1460.51 48.4L1488.21 48.4L1474.36 24.41Z" fill="none" stroke="#009900" stroke-width="4.95"/>
<path d="M1489.75 48.4L1517.45 48.4L1503.6 24.41Z" fill="none" stroke="#009900" stroke-width="4.95"/>
</g>
<g>
<polyline points="187.1,1053.8 216.18,1053.8 245.26,1053.8 274.34,1053.8 303.42,1053.8 332.5,1053.8 361.98,1053.8 391.46,1053.8 420.94,1053.8 450.42,1053.8 479.9,1053.8 509.11,1053.8 538.32,1053.8 567.53,1053.8 596.74,1053.8 625.95,1053.8 655.08,1053.8 684.21,1053.8 713.34,1053.8 742.47,982.86 771.6,908.88 800.97,790.32 830.34,514.67 859.71,165.05 889.08,48.51 918.45,40.4 947.67,40.4 976.89,40.4 1006.12,40.4 1035.34,40.4 1064.56,40.4 1093.74,40.4 1122.91,40.4 1152.09,40.4 1181.26,40.4 1210.44,40.4 1239.83,40.4 1269.22,40.4 1298.62,40.4 1328.01,40.4 1357.4,40.4 1386.64,40.4 1415.88,40.4 1445.12,40.4 1474.36,40.4 1503.6,40.4" fill="none" stroke="#000000" stroke-width="5.0" stroke-linejoin="round"/>
<rect x="177.4" y="1044.1" width="19.4" height="19.4" fill="none" stroke="#000000" stroke-width="4.95"/>
<rect x="206.48" y="1044.1" width="19.4" height="19.4" fill="none" stroke="#000000" stroke-width="4.95"/>
<rect x="235.56" y="1044.1" width="19.4" height="19.4" fill="none" stroke="#000000" stroke-width="4.95"/>
<rect x="264.64" y="1044.1" width="19.4" height="19.4" fill="none" stroke="#000000" stroke-width="4.95"/>
<rect x="293.72" y="1044.1" width="19.4" height="19.4" fill="none" stroke="#000000" stroke-width="4.95"/>
<rect x="322.8" y="1044.1" width="19.4" height="19.4" fill="none" stroke="#000000" stroke-width="4.95"/>
<rect x="352.28" y="1044.1" width="19.4" height="19.4" fill="none" stroke="#000000" stroke-width="4.95"/>
<rect x="381.76" y="1044.1" width="19.4" height="19.4" fill="none" stroke="#000000" stroke-width="4.95"/>
<rect x="411.24" y="1044.1" width="19.4" height="19.4" fill="none" stroke="#000000" stroke-width="4.95"/>
<rect x="440.72" y="1044.1" width="19.4" height="19.4" fill="none" stroke="#000000" stroke-width="4.95"/>
<rect x="470.2" y="1044.1" width="19.4" height="19.4" fill="none" stroke="#000000" stroke-width="4.95"/>
<rect x="499.41" y="1044.1" width="19.4" height="19.4" fill="none" stroke="#000000" stroke-width="4.95"/>
<rect x="528.62" y="1044.1" width="19.4" height="19.4" fill="none" stroke="#000000" stroke-width="4.95"/>
<rect x="557.83" y="1044.1" width="19.4" height="19.4" fill="none" stroke="#000000" stroke-width="4.95"/>
<rect x="587.04" y="1044.1" width="19.4" height="19.4" fill="none" stroke="#000000" stroke-width="4.95"/>
<rect x="616.25" y="1044.1" width="19.4" height="19.4" fill="none" stroke="#000000" stroke-width="4.95"/>
<rect x="645.38" y="1044.1" width="19.4" height="19.4" fill="none" stroke="#000000" stroke-width="4.95"/>
<rect x="674.51" y="1044.1" width="19.4" height="19.4" fill="none" stroke="#000000" stroke-width="4.95"/>
<rect x="703.64" y="1044.1" width="19.4" height="19.4" fill="none" stroke="#000000" stroke-width="4.95"/>
<rect x="732.77" y="973.16" width="19.4" height="19.4" fill="none" stroke="#000000" stroke-width="4.95"/>
<rect x="761.9" y="899.18" width="19.4" height="19.4" fill="none" stroke="#000000" stroke-width="4.95"/>
<rect x="791.27" y="780.62" width="19.4" height="19.4" fill="none" stroke="#000000" stroke-width="4.95"/>
<rect x="820.64" y="504.97" width="19.4" height="19.4" fill="none" stroke="#000000" stroke-width="4.95"/>
<rect x="850.01" y="155.35" width="19.4" height="19.4" fill="none" stroke="#000000" stroke-width="4.95"/>
<rect x="879.38" y="38.81" width="19.4" height="19.4" fill="none" stroke="#000000" stroke-width="4.95"/>
<rect x="908.75" y="30.7" width="19.4" height="19.4" fill="none" stroke="#000000" stroke-width="4.95"/>
<rect x="937.97" y="30.7" width="19.4" height="19.4" fill="none" stroke="#000000" stroke-width="4.95"/>
<rect x="967.19" y="30.7" width="19.4" height="19.4" fill="none" stroke="#000000" stroke-width="4.95"/>
<rect x="996.42" y="30.7" width="19.4" height="19.4" fill="none" stroke="#000000" stroke-width="4.95"/>
<rect x="1025.64" y="30.7" width="19.4" height="19.4" fill="none" stroke="#000000" stroke-width="4.95"/>
<rect x="1054.86" y="30.7" width="19.4" height="19.4" fill="none" stroke="#000000" stroke-width="4.95"/>
<rect x="1084.04" y="30.7" width="19.4" height="19.4" fill="none" stroke="#000000" stroke-width="4.95"/>
<rect x="1113.21" y="30.7" width="19.4" height="19.4" fill="none" stroke="#000000" stroke-width="4.95"/>
<rect x="1142.39" y="30.7" width="19.4" height="19.4" fill="none" stroke="#000000" stroke-width="4.95"/>
<rect x="1171.56" y="30.7" width="19.4" height="19.4" fill="none" stroke="#000000" stroke-width="4.95"/>
<rect x="1200.74" y="30.7" width="19.4" height="19.4" fill="none" stroke="#000000" stroke-width="4.95"/>
<rect x="1230.13" y="30.7" width="19.4" height="19.4" fill="none" stroke="#000000" stroke-width="4.95"/>
<rect x="1259.52" y="30.7" width="19.4" height="19.4" fill="none" stroke="#000000" stroke-width="4.95"/>
<rect x="1288.92" y="30.7" width="19.4" height="19.4" fill="none" stroke="#000000" stroke-width="4.95"/>
<rect x="1318.31" y="30.7" width="19.4" height="19.4" fill="none" stroke="#000000" stroke-width="4.95"/>
<rect x="1347.7" y="30.7" width="19.4" height="19.4" fill="none" stroke="#000000" stroke-width="4.95"/>
<rect x="1376.94" y="30.7" width="19.4" height="19.4" fill="none" stroke="#000000" stroke-width="4.95"/>
<rect x="1406.18" y="30.7" width="19.4" height="19.4" fill="none" stroke="#000000" stroke-width="4.95"/>
<rect x="1435.42" y="30.7" width="19.4" height="19.4" fill="none" stroke="#000000" stroke-width="4.95"/>
<rect x="1464.66" y="30.7" width="19.4" height="19.4" fill="none" stroke="#000000" stroke-width="4.95"/>
<rect x="1493.9" y="30.7" width="19.4" height="19.4" fill="none" stroke="#000000" stroke-width="4.95"/>
</g>
<g>
<polyline points="187.1,1053.8 216.18,1053.8 245.26,1053.8 274.34,1053.8 303.42,1053.8 332.5,1053.8 361.98,1053.8 391.46,1053.8 420.94,1053.8 450.42,1053.8 479.9,1053.8 509.11,1053.8 538.32,1053.8 567.53,1053.8 596.74,1053.8 625.95,1053.8 655.08,1053.8 684.21,1053.8 713.34,1053.8 742.47,1053.8 771.6,1053.8 800.97,1053.8 830.34,1053.8 859.71,1053.8 889.08,1053.8 918.45,1053.8 947.67,1053.8 976.89,1053.8 1006.12,1053.8 1035.34,1053.8 1064.56,1053.8 1093.74,1053.8 1122.91,1053.8 1152.09,1053.8 1181.26,1053.8 1210.44,1053.8 1239.83,1023.4 1269.22,962.59 1298.62,871.39 1328.01,759.91 1357.4,621.08 1386.64,380.9 1415.88,172.65 1445.12,73.54 1474.36,45.47 1503.6,40.4" fill="none" stroke="#84b240" stroke-width="5.0" stroke-linejoin="round"/>
<path d="M174.9 1053.8H199.3M187.1 1041.6V1066" fill="none" stroke="#84b240" stroke-width="4.95"/>
<path d="M203.98 1053.8H228.38M216.18 1041.6V1066" fill="none" stroke="#84b240" stroke-width="4.95"/>
<path d="M233.06 1053.8H257.46M245.26 1041.6V1066" fill="none" stroke="#84b240" stroke-width="4.95"/>
<path d="M262.14 1053.8H286.54M274.34 1041.6V1066" fill="none" stroke="#84b240" stroke-width="4.95"/>
<path d="M291.22 1053.8H315.62M303.42 1041.6V1066" fill="none" stroke="#84b240" stroke-width="4.95"/>
<path d="M320.3 1053.8H344.7M332.5 1041.6V1066" fill="none" stroke="#84b240" stroke-width="4.95"/>
<path d="M349.78 1053.8H374.18M361.98 1041.6V1066" fill="none" stroke="#84b240" stroke-width="4.95"/>
<path d="M379.26 1053.8H403.66M391.46 1041.6V1066" fill="none" stroke="#84b240" stroke-width="4.95"/>
<path d="M408.74 1053.8H433.14M420.94 1041.6V1066" fill="none" stroke="#84b240" stroke-width="4.95"/>
<path d="M438.22 1053.8H462.62M450.42 1041.6V1066" fill="none" stroke="#84b240" stroke-width="4.95"/>
<path d="M467.7 1053.8H492.1M479.9 1041.6V1066" fill="none" stroke="#84b240" stroke-width="4.95"/>
<path d="M496.91 1053.8H521.31M509.11 1041.6V1066" fill="none" stroke="#84b240" stroke-width="4.95"/>
<path d="M526.12 1053.8H550.52M538.32 1041.6V1066" fill="none" stroke="#84b240" stroke-width="4.95"/>
<path d="M555.33 1053.8H579.73M567.53 1041.6V1066" fill="none" stroke="#84b240" stroke-width="4.95"/>
<path d="M584.54 1053.8H608.94M596.74 1041.6V1066" fill="none" stroke="#84b240" stroke-width="4.95"/>
<path d="M613.75 1053.8H638.15M625.95 1041.6V1066" fill="none" stroke="#84b240" stroke-width="4.95"/>
<path d="M642.88 1053.8H667.28M655.08 1041.6V1066" fill="none" stroke="#84b240" stroke-width="4.95"/>
<path d="M672.01 1053.8H696.41M684.21 1041.6V1066" fill="none" stroke="#84b240" stroke-width="4.95"/>
<path d="M701.14 1053.8H725.54M713.34 1041.6V1066" fill="none" stroke="#84b240" stroke-width="4.95"/>
<path d="M730.27 1053.8H754.67M742.47 1041.6V1066" fill="none" stroke="#84b240" stroke-width="4.95"/>
<path d="M759.4 1053.8H783.8M771.6 1041.6V1066" fill="none" stroke="#84b240" stroke-width="4.95"/>
<path d="M788.77 1053.8H813.17M800.97 1041.6V1066" fill="none" stroke="#84b240" stroke-width="4.95"/>
<path d="M818.14 1053.8H842.54M830.34 1041.6V1066" fill="none" stroke="#84b240" stroke-width="4.95"/>
<path d="M847.51 1053.8H871.91M859.71 1041.6V1066" fill="none" stroke="#84b240" stroke-width="4.95"/>
<path d="M876.88 1053.8H901.28M889.08 1041.6V1066" fill="none" stroke="#84b240" stroke-width="4.95"/>
<path d="M906.25 1053.8H930.65M918.45 1041.6V1066" fill="none" stroke="#84b240" stroke-width="4.95"/>
<path d="M935.47 1053.8H959.87M947.67 1041.6V1066" fill="none" stroke="#84b240" stroke-width="4.95"/>
<path d="M964.69 1053.8H989.09M976.89 1041.6V1066" fill="none" stroke="#84b240" stroke-width="4.95"/>
<path d="M993.92 1053.8H1018.32M1006.12 1041.6V1066" fill="none" stroke="#84b240" stroke-width="4.95"/>
<path d="M1023.14 1053.8H1047.54M1035.34 1041.6V1066" fill="none" stroke="#84b240" stroke-width="4.95"/>
<path d="M1052.36 1053.8H1076.76M1064.56 1041.6V1066" fill="none" stroke="#84b240" stroke-width="4.95"/>
<path d="M1081.54 1053.8H1105.94M1093.74 1041.6V1066" fill="none" stroke="#84b240" stroke-width="4.95"/>
<path d="M1110.71 1053.8H1135.11M1122.91 1041.6V1066" fill="none" stroke="#84b240" stroke-width="4.95"/>
<path d="M1139.89 1053.8H1164.29M1152.09 1041.6V1066" fill="none" stroke="#84b240" stroke-width="4.95"/>
<path d="M1169.06 1053.8H1193.46M1181.26 1041.6V1066" fill="none" stroke="#84b240" stroke-width="4.95"/>
<path d="M1198.24 1053.8H1222.64M1210.44 1041.6V1066" fill="none" stroke="#84b240" stroke-width="4.95"/>
<path d="M1227.63 1023.4H1252.03M1239.83 1011.2V1035.6" fill="none" stroke="#84b240" stroke-width="4.95"/>
<path d="M1257.02 962.59H1281.42M1269.22 950.39V974.79" fill="none" stroke="#84b240" stroke-width="4.95"/>
<path d="M1286.42 871.39H1310.82M1298.62 859.19V883.59" fill="none" stroke="#84b240" stroke-width="4.95"/>
<path d="M1315.81 759.91H1340.21M1328.01 747.71V772.11" fill="none" stroke="#84b240" stroke-width="4.95"/>
<path d="M1345.2 621.08H1369.6M1357.4 608.88V633.28" fill="none" stroke="#84b240" stroke-width="4.95"/>
<path d="M1374.44 380.9H1398.84M1386.64 368.7V393.1" fill="none" stroke="#84b240" stroke-width="4.95"/>
<path d="M1403.68 172.65H1428.08M1415.88 160.45V184.85" fill="none" stroke="#84b240" stroke-width="4.95"/>
<path d="M1432.92 73.54H1457.32M1445.12 61.34V85.74" fill="none" stroke="#84b240" stroke-width="4.95"/>
<path d="M1462.16 45.47H1486.56M1474.36 33.27V57.67" fill="none" stroke="#84b240" stroke-width="4.95"/>
<path d="M1491.4 40.4H1515.8M1503.6 28.2V52.6" fill="none" stroke="#84b240" stroke-width="4.95"/>
</g>
<rect x="995" y="624.4" width="509.6" height="401.95" fill="#fff" stroke="#262626" stroke-width="3"/>
<g font-size="48.4" fill="#000">
<path d="M1006.6 657.3H1128" stroke="#0000ff" stroke-width="5.0" fill="none"/>
<circle cx="1067.2" cy="657.3" r="12.05" fill="none" stroke="#0000ff" stroke-width="4.95"/>
<text x="1135.8" y="674.4" letter-spacing="0.321">Proposed</text>
<path d="M1006.6 713.4H1128" stroke="#fa5005" stroke-width="5.0" fill="none"/>
<path d="M1055.2 713.4H1079.2M1067.2 701.4V725.4M1058.71 704.91L1075.69 721.89M1058.71 721.89L1075.69 704.91" fill="none" stroke="#fa5005" stroke-width="4.95"/>
<text x="1136.55" y="730.5" letter-spacing="0.35">STGRFT</text>
<path d="M1006.6 769.4H1128" stroke="#f000cc" stroke-width="5.0" fill="none"/>
<path d="M1067.2 752.6L1079.1 769.4L1067.2 786.2L1055.3 769.4Z" fill="none" stroke="#f000cc" stroke-width="4.95"/>
<text x="1138.9" y="786.5" letter-spacing="-0.21">WRFRFT</text>
<path d="M1006.6 825.6H1128" stroke="#ff0000" stroke-width="5.0" fill="none"/>
<path d="M1053.35 817.6L1081.05 817.6L1067.2 841.59Z" fill="none" stroke="#ff0000" stroke-width="4.95"/>
<text x="1136.8" y="842.7" letter-spacing="0.783">ACCF</text>
<path d="M1006.6 881.4H1128" stroke="#009900" stroke-width="5.0" fill="none"/>
<path d="M1053.35 889.4L1081.05 889.4L1067.2 865.41Z" fill="none" stroke="#009900" stroke-width="4.95"/>
<text x="1135.8" y="898.5" letter-spacing="0.355">MBPCF-MSWPD</text>
<path d="M1006.6 937.3H1128" stroke="#000000" stroke-width="5.0" fill="none"/>
<rect x="1057.5" y="927.6" width="19.4" height="19.4" fill="none" stroke="#000000" stroke-width="4.95"/>
<text x="1135.8" y="954.4" letter-spacing="0.62">KT-MFP</text>
<path d="M1006.6 993.3H1128" stroke="#84b240" stroke-width="5.0" fill="none"/>
<path d="M1055 993.3H1079.4M1067.2 981.1V1005.5" fill="none" stroke="#84b240" stroke-width="4.95"/>
<text x="1136.55" y="1010.4" letter-spacing="0.367">SSMB</text>
</g>
</svg></body></html>
